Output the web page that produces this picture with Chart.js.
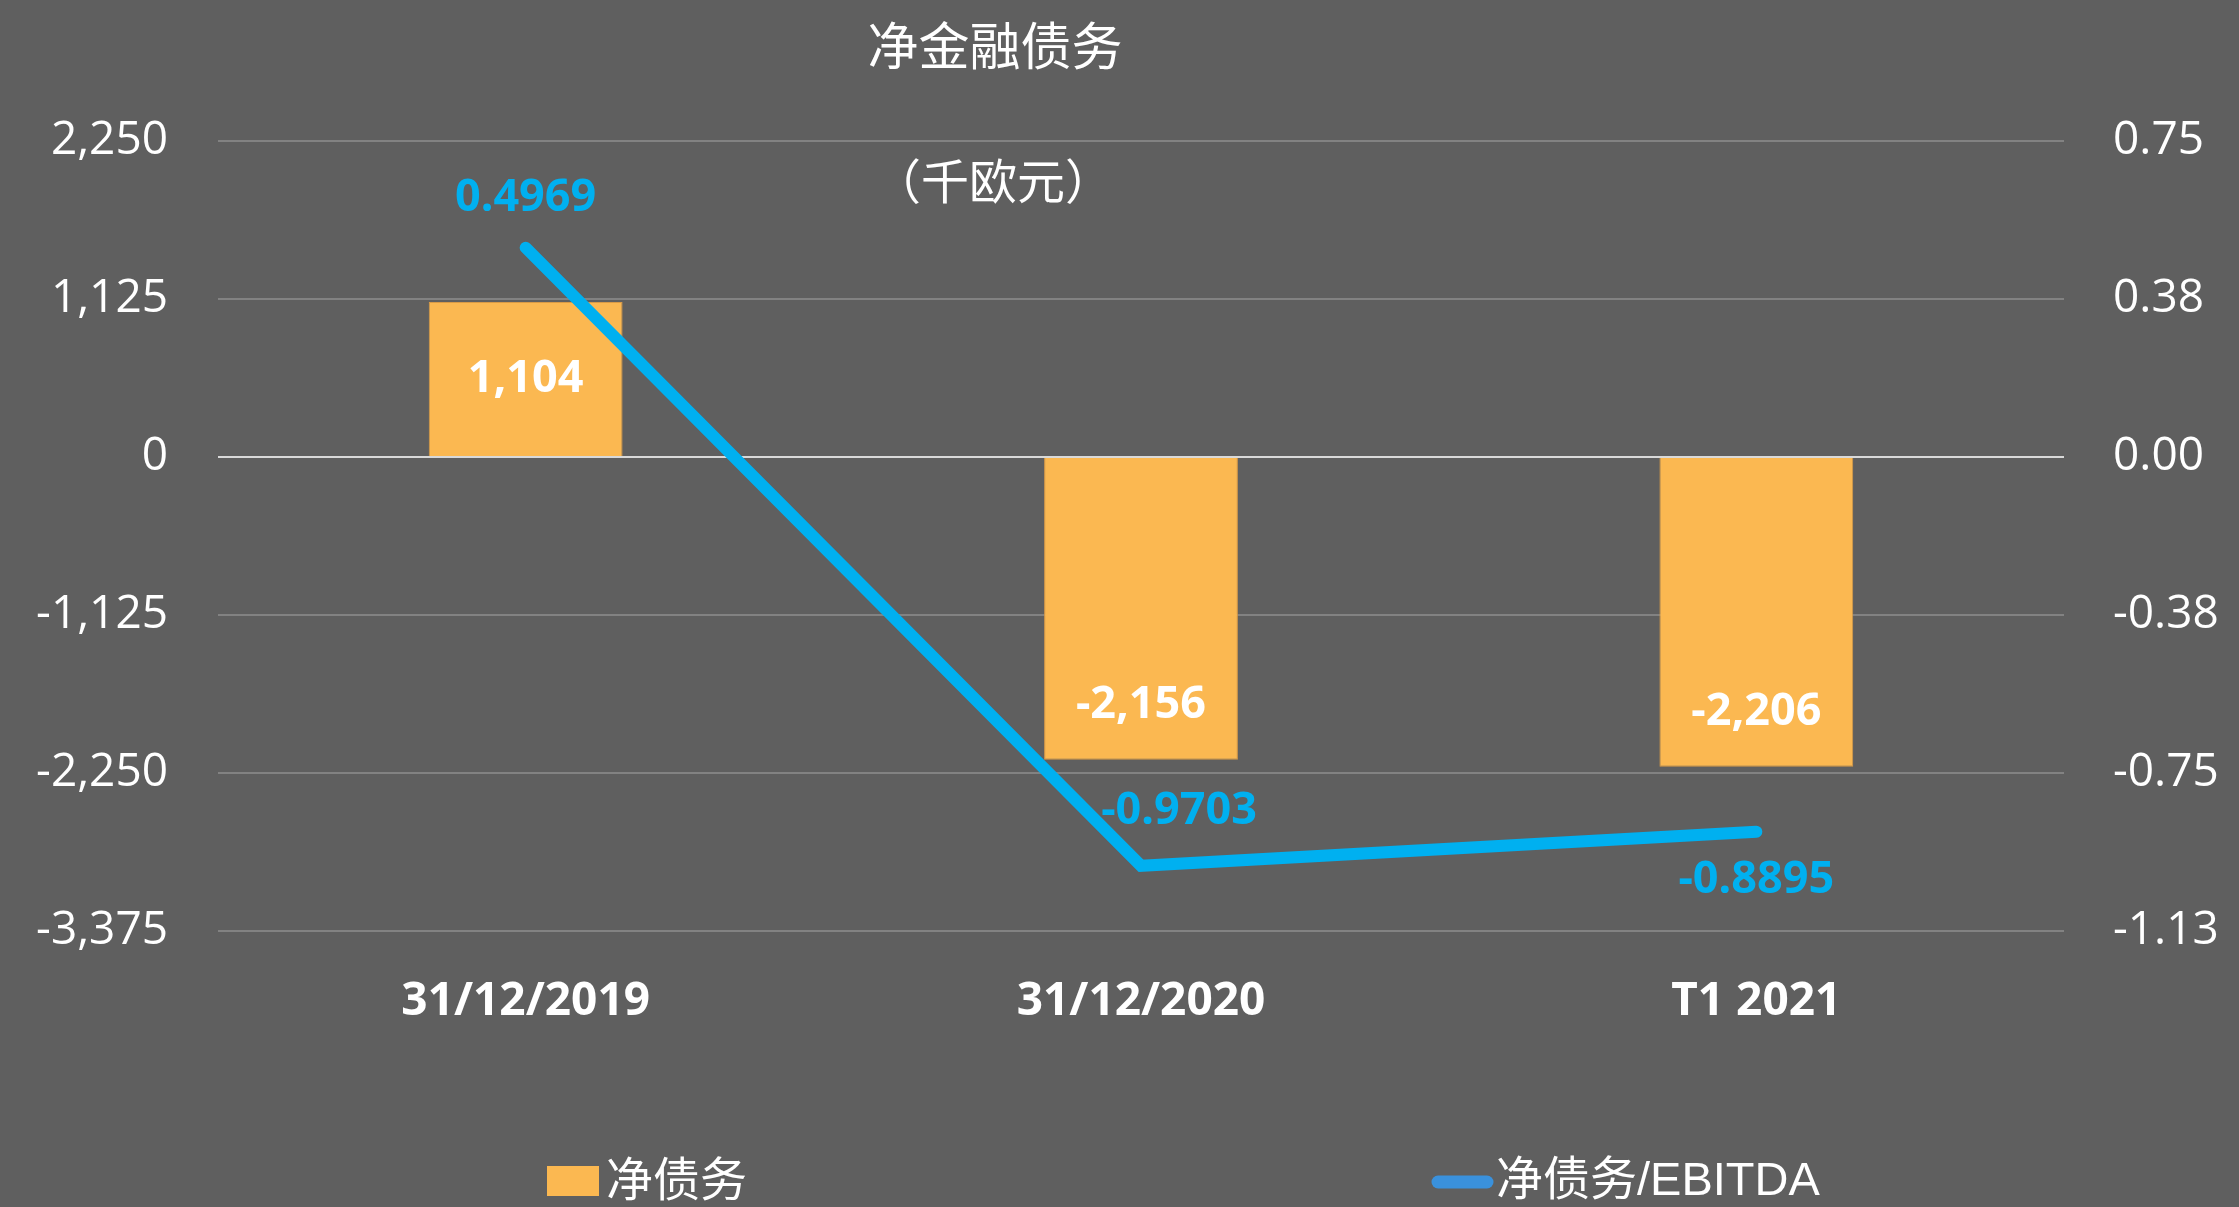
<!DOCTYPE html>
<html>
<head>
<meta charset="utf-8">
<script src="https://cdn.jsdelivr.net/npm/chart.js@4"></script>
<style>
  html, body { margin: 0; padding: 0; background: #5f5f5f; }
  #wrap { width: 2239px; height: 1207px; }
</style>
</head>
<body>
<div id="wrap"><canvas id="deudaChart"></canvas></div>
<script>
// datos
const categorias = ['31/12/2019', '31/12/2020', 'T1 2021'];
const deudaNeta = [1104, -2156, -2206];
const deudaEbitda = [0.4969, -0.9703, -0.8895];
const ticksIzq = [-3375, -2250, -1125, 0, 1125, 2250];
const ticksDer = [-1.125, -0.75, -0.375, 0, 0.375, 0.75];

const COLORES = {
  fondo: '#5f5f5f',
  naranja: '#fbb851',
  azul: '#00b0f0',
  azulLeyenda: '#3a91dc',
  rejilla: '#828282',
  cero: '#d9d9d9',
  texto: '#ffffff'
};

// colocacion de etiquetas (estilo, no datos)
const anclaBarras = ['center', 'end', 'end'];
const desplLinea = [[0, -49], [38, -55], [0, 48]];

const fondoPlugin = {
  id: 'fondo',
  beforeDraw(chart) {
    const c = chart.ctx;
    c.save();
    c.fillStyle = COLORES.fondo;
    c.fillRect(0, 0, chart.width, chart.height);
    c.restore();
  }
};

const titulosPlugin = {
  id: 'titulos',
  afterDraw(chart) {
    const c = chart.ctx;
    c.save();
    c.fillStyle = COLORES.texto;
    c.textAlign = 'center';
    c.textBaseline = 'middle';
    c.font = '51px "Noto Sans CJK SC"';
    c.fillText('净金融债务', 995, 46);
    c.font = '48px "Noto Sans CJK SC"';
    c.fillText('（千欧元）', 993, 181);
    c.restore();
  }
};

const etiquetasPlugin = {
  id: 'etiquetas',
  afterDatasetsDraw(chart) {
    const c = chart.ctx;
    c.save();
    c.textAlign = 'center';
    c.textBaseline = 'middle';
    c.font = 'bold 45px "Noto Sans"';
    // barras
    c.fillStyle = COLORES.texto;
    chart.getDatasetMeta(0).data.forEach((el, i) => {
      let y;
      if (anclaBarras[i] === 'center') {
        y = (el.y + el.base) / 2;
      } else {
        y = el.y + (el.y < el.base ? 55 : -55);
      }
      c.fillText(deudaNeta[i].toLocaleString('en-US'), el.x, y);
    });
    // linea
    c.fillStyle = COLORES.azul;
    chart.getDatasetMeta(1).data.forEach((el, i) => {
      const d = desplLinea[i];
      c.fillText(deudaEbitda[i].toFixed(4), el.x + d[0], el.y + d[1]);
    });
    c.restore();
  }
};

const leyendaPlugin = {
  id: 'leyendaAbajo',
  afterDraw(chart) {
    const c = chart.ctx;
    const ds = chart.data.datasets;
    c.save();
    c.fillStyle = ds[0].backgroundColor;
    c.fillRect(547, 1166, 52, 30);
    c.strokeStyle = COLORES.azulLeyenda;
    c.lineWidth = 13;
    c.lineCap = 'round';
    c.beginPath();
    c.moveTo(1438, 1182);
    c.lineTo(1487, 1182);
    c.stroke();
    c.fillStyle = COLORES.texto;
    c.textAlign = 'left';
    c.textBaseline = 'middle';
    c.font = '47px "Liberation Sans", "Noto Sans CJK SC"';
    c.fillText(ds[0].label, 606, 1183);
    c.fillText(ds[1].label, 1496, 1182);
    c.restore();
  }
};

const data = {
  labels: categorias,
  datasets: [{
    type: 'bar',
    label: '净债务',
    data: deudaNeta,
    backgroundColor: COLORES.naranja,
    borderColor: '#d99a45',
    borderWidth: 1,
    barPercentage: 0.9,
    categoryPercentage: 0.35,
    yAxisID: 'y',
    order: 2
  }, {
    type: 'line',
    label: '净债务/EBITDA',
    data: deudaEbitda,
    borderColor: COLORES.azul,
    backgroundColor: COLORES.azul,
    borderWidth: 12,
    borderCapStyle: 'round',
    pointRadius: 0,
    tension: 0,
    yAxisID: 'y1',
    order: 1
  }]
};

const config = {
  data: data,
  options: {
    responsive: true,
    maintainAspectRatio: false,
    animation: false,
    layout: { padding: { top: 141 } },
    plugins: {
      legend: { display: false },
      tooltip: { enabled: false },
      title: { display: false }
    },
    scales: {
      x: {
        grid: { display: false },
        border: { display: false },
        ticks: {
          color: COLORES.texto,
          font: { family: 'Noto Sans', size: 46, weight: 'bold' },
          padding: 35
        },
        afterFit(scale) { scale.height = 276; }
      },
      y: {
        position: 'left',
        min: ticksIzq[0],
        max: ticksIzq[ticksIzq.length - 1],
        afterBuildTicks(scale) { scale.ticks = ticksIzq.map(v => ({ value: v })); },
        grid: {
          color: ctx => ctx.tick && ctx.tick.value === 0 ? COLORES.cero : COLORES.rejilla,
          lineWidth: 2,
          drawTicks: false
        },
        border: { display: false },
        ticks: {
          color: COLORES.texto,
          font: { family: 'Open Sans', size: 46 },
          padding: 50,
          callback: v => v.toLocaleString('en-US')
        },
        afterFit(scale) { scale.width = 218; }
      },
      y1: {
        position: 'right',
        min: ticksDer[0],
        max: ticksDer[ticksDer.length - 1],
        afterBuildTicks(scale) { scale.ticks = ticksDer.map(v => ({ value: v })); },
        grid: { display: false, drawTicks: false },
        border: { display: false },
        ticks: {
          color: COLORES.texto,
          font: { family: 'Open Sans', size: 46 },
          padding: 49,
          callback: v => v.toFixed(2)
        },
        afterFit(scale) { scale.width = 175; }
      }
    }
  },
  plugins: [fondoPlugin, etiquetasPlugin, titulosPlugin, leyendaPlugin]
};

const graficoDeuda = new Chart(document.getElementById('deudaChart'), config);
</script>
</body>
</html>
